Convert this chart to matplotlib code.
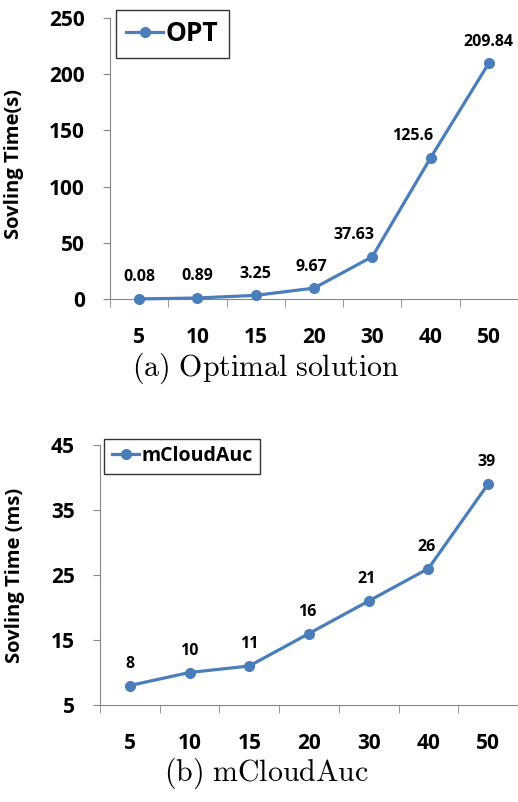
import matplotlib
matplotlib.use("Agg")
import matplotlib.pyplot as plt

plt.rcParams['font.family'] = ['Open Sans', 'DejaVu Sans']
plt.rcParams['mathtext.fontset'] = 'cm'

# number of users on the x axis, solving times for each method
users = ['5', '10', '15', '20', '30', '40', '50']
opt_time = [0.08, 0.89, 3.25, 9.67, 37.63, 125.6, 209.84]
opt_labels = ['0.08', '0.89', '3.25', '9.67', '37.63', '125.6', '209.84']
auc_time = [8, 10, 11, 16, 21, 26, 39]
auc_labels = ['8', '10', '11', '16', '21', '26', '39']

blue = '#4A7EBB'
grey = '#868686'

fig = plt.figure(figsize=(5.18, 8.02), dpi=100)


def panel(rect, values, labels, ylim, yticks, ylabel, name, label_xoff,
          legend_anchor, legend_size, ylabel_pos):
    ax = fig.add_axes(rect)
    x = list(range(len(users)))
    ax.plot(x, values, color=blue, lw=2.3, marker='o', ms=7,
            label=name, clip_on=False, zorder=3)
    for xi, v, s, dx in zip(x, values, labels, label_xoff):
        ax.annotate(s, (xi, v), xytext=(dx, 15.5), textcoords='offset points',
                    ha='center', va='center', fontsize=11.5,
                    fontweight='bold')
    ax.set_xlim(-0.5, len(users) - 0.5)
    ax.set_ylim(*ylim)
    ax.set_yticks(yticks)
    ax.set_xticks(x)
    ax.set_xticklabels(users)
    ax.set_xticks([i - 0.5 for i in range(len(users) + 1)], minor=True)
    ax.tick_params(axis='x', which='major', length=0, pad=20, labelsize=15)
    ax.tick_params(axis='x', which='minor', length=6, color=grey,
                   direction='out')
    ax.tick_params(axis='y', length=5, color=grey, labelsize=15, pad=13)
    for t in ax.get_xticklabels() + ax.get_yticklabels():
        t.set_fontweight('bold')
    for side in ('top', 'right'):
        ax.spines[side].set_visible(False)
    for side in ('left', 'bottom'):
        ax.spines[side].set_color(grey)
    ax.set_ylabel(ylabel, fontsize=14.5, fontweight='bold')
    ax.yaxis.set_label_coords(*ylabel_pos)
    leg = ax.legend(loc='upper left', bbox_to_anchor=legend_anchor,
                    borderaxespad=0, fancybox=False, handlelength=1.4,
                    handletextpad=0.1, borderpad=0.4,
                    prop={'weight': 'bold', 'size': legend_size})
    leg.get_frame().set_edgecolor('black')
    leg.get_frame().set_linewidth(1.0)
    return ax


panel([110 / 518, 1 - 299 / 802, 408 / 518, 281 / 802],
      opt_time, opt_labels, (0, 250), range(0, 251, 50),
      'Sovling Time(s)', 'OPT', [0, 0, 0, -2, -13, -13, 0],
      (0.014, 1.03), 19, (-0.21, 0.48))

panel([100 / 518, 1 - 705 / 802, 418 / 518, 260 / 802],
      auc_time, auc_labels, (5, 45), range(5, 46, 10),
      'Sovling Time (ms)', 'mCloudAuc', [0, 0, 0, -1.5, -1.5, -1.5, -1.5],
      (0.01, 1.025), 14, (-0.18, 0.5))

fig.text(266 / 518, 1 - 368 / 802, r'$\mathrm{(a)\ Optimal\ solution}$',
         ha='center', va='center', fontsize=21.5)
fig.text(266 / 518, 1 - 773 / 802, r'$\mathrm{(b)\ mCloudAuc}$',
         ha='center', va='center', fontsize=21.5)

fig.savefig('out.png', dpi=100)
